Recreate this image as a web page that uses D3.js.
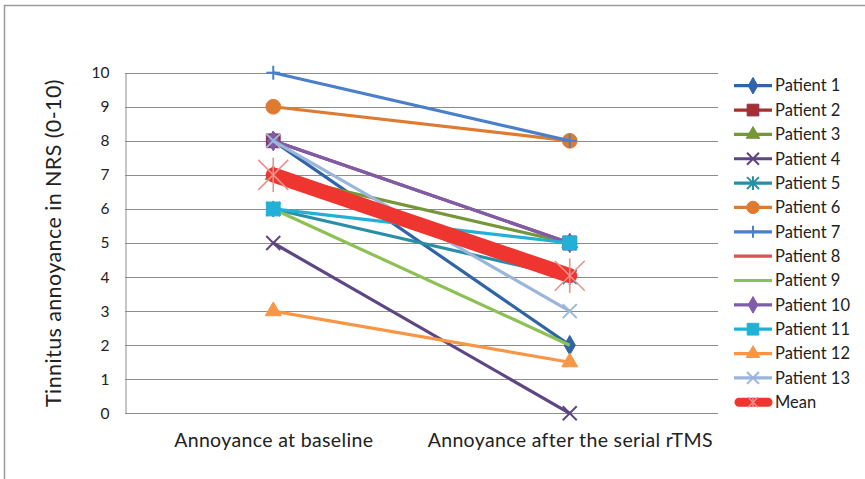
<!DOCTYPE html>
<html>
<head>
<meta charset="utf-8">
<script src="https://cdn.jsdelivr.net/npm/d3@7/dist/d3.min.js"></script>
<style>
  html, body { margin: 0; padding: 0; background: #fff; }
  svg { display: block; font-family: Lato, "Open Sans", sans-serif; }
</style>
</head>
<body>
<svg id="chart" width="865" height="479"></svg>
<script>
// Time points on the x axis
const categories = ["Annoyance at baseline", "Annoyance after the serial rTMS"];

// Tinnitus annoyance (NRS 0-10) per patient: [baseline, after rTMS]
const seriesNames = ["Patient 1", "Patient 2", "Patient 3", "Patient 4", "Patient 5", "Patient 6",
  "Patient 7", "Patient 8", "Patient 9", "Patient 10", "Patient 11", "Patient 12", "Patient 13", "Mean"];
const patient1  = [8, 2];
const patient2  = [8, 5];
const patient3  = [7, 5];
const patient4  = [5, 0];
const patient5  = [6, 4];
const patient6  = [9, 8];
const patient7  = [10, 8];
const patient8  = [7, 4];
const patient9  = [6, 2];
const patient10 = [8, 5];
const patient11 = [6, 5];
const patient12 = [3, 1.5];
const patient13 = [8, 3];
const meanValues = [7.0, 4.04];

const yTicks = [0, 1, 2, 3, 4, 5, 6, 7, 8, 9, 10];

const seriesValues = [patient1, patient2, patient3, patient4, patient5, patient6, patient7,
  patient8, patient9, patient10, patient11, patient12, patient13, meanValues];

// Styling per series
const colors = ["#2F64A6", "#A5302D", "#76963A", "#5E4584", "#2A8FA6", "#DE7B30", "#4A80C9",
  "#D9534E", "#8DC153", "#7E5CAA", "#22B0D6", "#F79646", "#9AB6DB", "#EE3530"];
const markers = ["diamond", "square", "triangle", "x", "asterisk", "circle", "plus",
  "none", "none", "diamond", "square", "triangle", "x", "star"];

const svg = d3.select("#chart");

// outer chart frame
svg.append("rect").attr("x", 4.5).attr("y", 5.5).attr("width", 880).attr("height", 490)
  .attr("fill", "none").attr("stroke", "#9a9a9a").attr("stroke-width", 1.5);

const plot = { left: 125, right: 718, top: 72.7, bottom: 413.3 };

const x = d3.scalePoint().domain(categories).range([plot.left, plot.right]).padding(0.5);
const y = d3.scaleLinear().domain([0, 10]).range([plot.bottom, plot.top]);

// horizontal gridlines
svg.append("g").selectAll("line").data(yTicks.filter(d => d > 0)).join("line")
  .attr("x1", plot.left).attr("x2", plot.right)
  .attr("y1", d => Math.round(y(d)) + 0.5).attr("y2", d => Math.round(y(d)) + 0.5)
  .attr("stroke", "#8c8c8c").attr("stroke-width", 1);

// y axis
const yAxis = svg.append("g").attr("transform", `translate(${plot.left + 0.5},0)`)
  .call(d3.axisLeft(y).tickValues(yTicks).tickSize(0).tickPadding(16));
yAxis.select(".domain").attr("stroke", "#8c8c8c");
yAxis.selectAll("text").attr("font-size", 15.5).attr("fill", "#222").attr("font-family", "Lato, sans-serif");

// x axis
const xAxis = svg.append("g").attr("transform", `translate(0,${Math.round(plot.bottom) + 0.5})`)
  .call(d3.axisBottom(x).tickSize(0).tickPadding(20));
xAxis.select(".domain").attr("stroke", "#8c8c8c").attr("d", `M${plot.left},0H${plot.right}`);
xAxis.selectAll("text").attr("font-size", 19.5).attr("letter-spacing", "0.35px")
  .attr("fill", "#222").attr("font-family", "Lato, sans-serif");

// y axis title
svg.append("text")
  .attr("transform", `translate(61,${(plot.top + plot.bottom) / 2}) rotate(-90)`)
  .attr("text-anchor", "middle").attr("font-size", 21.5).attr("letter-spacing", "0.4px").attr("fill", "#222")
  .text("Tinnitus annoyance in NRS (0-10)");

// marker drawing helper
function drawMarker(g, type, color, cx, cy, scale) {
  const s = scale || 1;
  const sym = { diamond: d3.symbolDiamond, square: d3.symbolSquare, triangle: d3.symbolTriangle, circle: d3.symbolCircle };
  const sizes = { diamond: 110, square: 190, triangle: 110, circle: 170 };
  if (sym[type]) {
    g.append("path").attr("d", d3.symbol().type(sym[type]).size(sizes[type] * s * s)())
      .attr("transform", `translate(${cx},${cy})`).attr("fill", color)
      .attr("stroke", type === "square" && color === "#A5302D" ? "#8a2f63" : color)
      .attr("stroke-width", 1);
  } else if (type === "x" || type === "asterisk" || type === "plus" || type === "star") {
    const r = (type === "star" ? 15 : 7) * s;
    const segs = [];
    if (type === "x" || type === "asterisk" || type === "star") {
      segs.push([-r, -r, r, r], [-r, r, r, -r]);
    }
    if (type === "asterisk" || type === "plus" || type === "star") {
      segs.push([0, -r * (type === "plus" ? 1 : 1.15), 0, r * (type === "plus" ? 1 : 1.15)]);
    }
    if (type === "plus" || type === "asterisk") {
      segs.push([-r, 0, r, 0]);
    }
    g.selectAll(null).data(segs).join("line")
      .attr("x1", d => cx + d[0]).attr("y1", d => cy + d[1])
      .attr("x2", d => cx + d[2]).attr("y2", d => cy + d[3])
      .attr("stroke", type === "star" ? "#EA918D" : color)
      .attr("stroke-width", type === "star" ? 1.6 : 2);
  }
}

// series lines with markers, drawn in series order
const line = d3.line().x((d, i) => x(categories[i])).y(d => y(d));
const seriesG = svg.append("g");
seriesValues.forEach((vals, si) => {
  const g = seriesG.append("g");
  const isMean = seriesNames[si] === "Mean";
  g.append("path").datum(vals).attr("d", line)
    .attr("fill", "none").attr("stroke", colors[si])
    .attr("stroke-width", isMean ? 15 : 3.2)
    .attr("stroke-linecap", isMean ? "round" : "butt");
  if (markers[si] !== "none") {
    vals.forEach((v, i) => drawMarker(g, markers[si], colors[si], x(categories[i]), y(v)));
  }
});

// legend
const legend = svg.append("g");
const legendTop = 85.7, legendStep = 24.35;
seriesNames.forEach((name, i) => {
  const ly = legendTop + i * legendStep;
  const g = legend.append("g");
  const isMean = name === "Mean";
  g.append("line").attr("x1", isMean ? 739 : 734).attr("x2", isMean ? 768 : 772)
    .attr("y1", ly).attr("y2", ly)
    .attr("stroke", colors[i]).attr("stroke-width", isMean ? 9 : 3.2)
    .attr("stroke-linecap", isMean ? "round" : "butt");
  if (markers[i] !== "none") {
    if (markers[i] === "star") {
      const r = 5;
      [[-r, -r, r, r], [-r, r, r, -r], [0, -r, 0, r]].forEach(d => {
        g.append("line").attr("x1", 753 + d[0]).attr("y1", ly + d[1])
          .attr("x2", 753 + d[2]).attr("y2", ly + d[3])
          .attr("stroke", "#EA918D").attr("stroke-width", 1.4);
      });
    } else {
      drawMarker(g, markers[i], colors[i], 753, ly, 0.85);
    }
  }
  g.append("text").attr("x", 775).attr("y", ly).attr("dy", "0.35em")
    .attr("font-size", 16.5).attr("fill", "#222").text(name);
});
</script>
</body>
</html>
